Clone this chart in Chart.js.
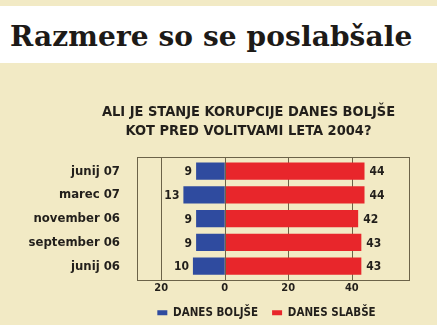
<!DOCTYPE html>
<html>
<head>
<meta charset="utf-8">
<script src="https://cdn.jsdelivr.net/npm/chart.js@4.4.1/dist/chart.umd.min.js"></script>
<style>
  html, body { margin:0; padding:0; }
  body { width:437px; height:325px; background:#f2eac5; position:relative; overflow:hidden; }
  .band { position:absolute; left:0; top:6px; width:437px; height:57px; background:#fff; }
  .band h1 { position:absolute; left:10px; top:14px; margin:0; font:bold 28px 'DejaVu Serif', serif; color:#1d1a17; white-space:nowrap; letter-spacing:0.1px; }
  .wrap { position:absolute; left:0; top:63px; width:437px; height:262px; }
</style>
</head>
<body>
<div class="band"><h1>Razmere so se poslabšale</h1></div>
<div class="wrap"><canvas id="js-chart"></canvas></div>
<script>
  /* ━━━━  DATA  ━━━━ */
  const categories = ['junij 07', 'marec 07', 'november 06', 'september 06', 'junij 06'];
  const bolje      = [9, 13, 9, 9, 10];     // DANES BOLJŠE (drawn to the left)
  const slabse     = [44, 44, 42, 43, 43];  // DANES SLABŠE
  const xTicks     = [-20, 0, 20, 40];
  const seriesNames = ['DANES BOLJŠE', 'DANES SLABŠE'];
  const question   = ['ALI JE STANJE KORUPCIJE DANES BOLJŠE', 'KOT PRED VOLITVAMI LETA 2004?'];

  const INK   = '#221f1b';
  const LINE  = '#6c6349';
  const FONT  = "'DejaVu Sans Condensed', 'DejaVu Sans', sans-serif";
  const GAP   = 2;   // frame sits a little outside the category band

  /* frame + grid, shift title + legend to the right like the print */
  const framePlugin = {
    id: 'frame',
    afterLayout(chart) {
      const shift = (box, dx) => { if (box) { box.left += dx; box.right += dx; } };
      shift(chart.titleBlock, 44);
      shift(chart.legend, 62);
    },
    beforeDatasetsDraw(chart) {
      const { ctx, chartArea: a, scales: { x } } = chart;
      ctx.save();
      ctx.strokeStyle = LINE;
      ctx.lineWidth = 1;
      xTicks.forEach(v => {
        const px = Math.round(x.getPixelForValue(v)) + 0.5;
        ctx.beginPath();
        ctx.moveTo(px, a.top - GAP);
        ctx.lineTo(px, a.bottom + GAP);
        ctx.stroke();
      });
      ctx.restore();
    },
    afterDatasetsDraw(chart) {
      const { ctx, chartArea: a, scales: { x } } = chart;
      ctx.save();
      ctx.strokeStyle = LINE;
      ctx.lineWidth = 1;
      const px = Math.round(x.getPixelForValue(0)) + 0.5;
      ctx.beginPath();
      ctx.moveTo(px, a.top - GAP);
      ctx.lineTo(px, a.bottom + GAP);
      ctx.stroke();
      ctx.strokeRect(Math.round(a.left) + 0.5, Math.round(a.top - GAP) + 0.5,
                     Math.round(a.right - a.left), Math.round(a.bottom - a.top + 2 * GAP));
      ctx.restore();
    }
  };
  const valuePlugin = {
    id: 'values',
    afterDatasetsDraw(chart) {
      const ctx = chart.ctx;
      ctx.save();
      ctx.font = 'bold 12px ' + FONT;
      ctx.fillStyle = INK;
      ctx.textBaseline = 'middle';
      chart.data.datasets.forEach((ds, di) => {
        chart.getDatasetMeta(di).data.forEach((bar, i) => {
          const v = Math.abs(ds.data[i]);
          if (di === 0) { ctx.textAlign = 'right'; ctx.fillText(v, bar.x - 4, bar.y + 1); }
          else          { ctx.textAlign = 'left';  ctx.fillText(v, bar.x + 5, bar.y + 1); }
        });
      });
      ctx.restore();
    }
  };

  new Chart(document.getElementById('js-chart').getContext('2d'), {
    type: 'bar',
    data: {
      labels: categories,
      datasets: [
        { label: seriesNames[0], data: bolje.map(v => -v), backgroundColor: '#2f4b9f', borderWidth: 0 },
        { label: seriesNames[1], data: slabse, backgroundColor: '#e8262b', borderWidth: 0 }
      ]
    },
    options: {
      indexAxis: 'y',
      responsive: true,
      maintainAspectRatio: false,
      animation: false,
      layout: { padding: { left: 0, right: 28, bottom: 0 } },
      plugins: {
        title: {
          display: true,
          text: question,
          color: INK,
          font: { family: FONT, size: 14.5, weight: 'bold', lineHeight: 1.31 },
          padding: { top: 39.5, bottom: 18.8 }
        },
        legend: {
          position: 'bottom',
          maxHeight: 32,
          labels: {
            color: INK,
            font: { family: FONT, size: 11.5, weight: 'bold' },
            boxWidth: 10, boxHeight: 5, padding: 14
          }
        },
        tooltip: { enabled: false }
      },
      scales: {
        x: {
          stacked: true,
          min: -27.6, max: 58,
          afterBuildTicks: ax => { ax.ticks = xTicks.map(v => ({ value: v })); },
          afterFit: ax => { ax.height = 15; },
          grid: { display: false, drawTicks: false },
          border: { display: false },
          ticks: {
            color: INK, padding: 3.5,
            font: { family: FONT, size: 11, weight: 'bold' },
            callback: v => Math.abs(v)
          }
        },
        y: {
          stacked: true,
          afterFit: ax => { ax.width = 137; },
          grid: { display: false, drawTicks: false },
          border: { display: false },
          barPercentage: 0.8,
          categoryPercentage: 1,
          ticks: {
            color: INK, padding: 17,
            font: { family: FONT, size: 13, weight: 'bold' }
          }
        }
      }
    },
    plugins: [framePlugin, valuePlugin]
  });
</script>
</body>
</html>
